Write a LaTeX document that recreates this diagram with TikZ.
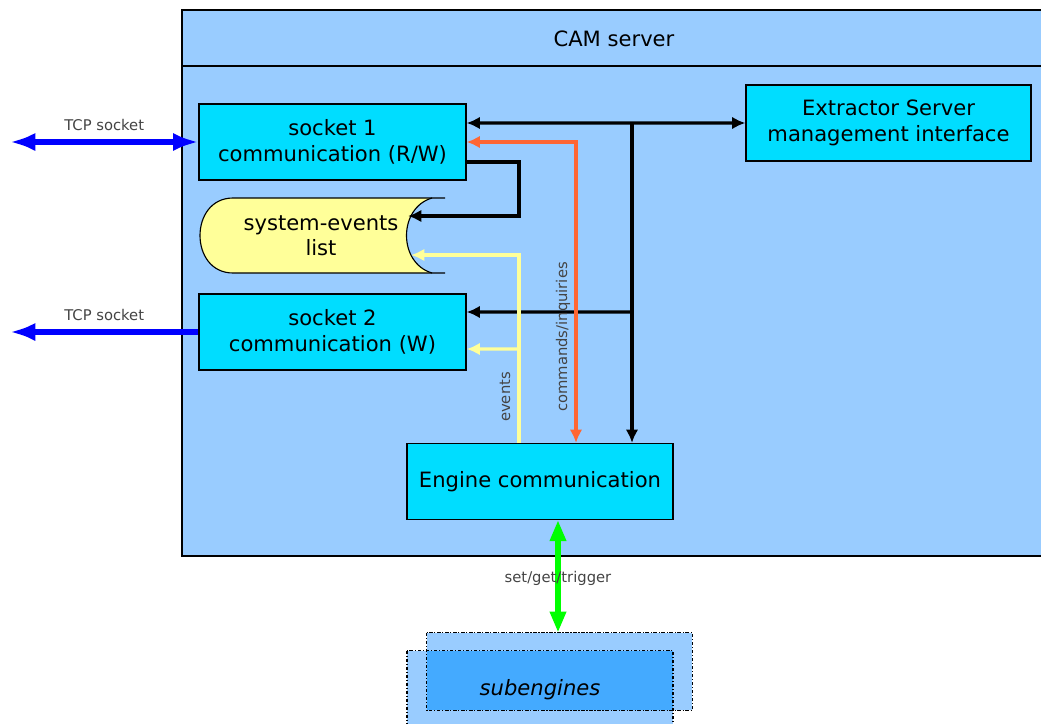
\documentclass[tikz,border=0pt]{standalone}
\usepackage{fontspec}
\setmainfont{DejaVu Sans}
\usetikzlibrary{arrows.meta,positioning}
\definecolor{srvblue}{HTML}{99CCFF}
\definecolor{boxcyan}{HTML}{00DDFF}
\definecolor{listyellow}{HTML}{FFFF99}
\definecolor{cmdorange}{HTML}{FF6633}
\definecolor{tcpblue}{HTML}{0000FF}
\definecolor{trigreen}{HTML}{00FF00}
\definecolor{subdark}{HTML}{44AAFF}
\definecolor{lblgray}{HTML}{444444}

\begin{document}
\begin{tikzpicture}
[x=0.025cm, y=-0.025cm,
baseshape/.style={draw=black, line width=0.8pt, font=\fontsize{15}{18}\selectfont, align=center, inner sep=0pt},
module/.style={baseshape, rectangle, fill=boxcyan, minimum height=1.9cm},
subbox/.style={rectangle, fill=srvblue, minimum width=6.63cm, minimum height=1.93cm, inner sep=0pt},
subline/.style={line width=0.9pt, dash pattern=on 2.5pt off 1.2pt on 0.8pt off 1.2pt},
lbl/.style={font=\fontsize{10.5}{12}\selectfont, text=lblgray, inner sep=1pt},
tip/.style={-{Latex[length=9.5pt,width=9pt]}},
dtip/.style={{Latex[length=9.5pt,width=9pt]}-{Latex[length=9.5pt,width=9pt]}},
blk/.style={line width=2.3pt, black},
tcp/.style={line width=4.5pt, tcpblue},
org/.style={line width=2.3pt, cmdorange},
ylw/.style={line width=2.3pt, listyellow},
grn/.style={line width=4.5pt, trigreen},
]
    \useasboundingbox (0,0) rectangle (1041,724);
    % server frame
    \draw[line width=0.9pt, fill=srvblue] (182,10) rectangle (1050,556);
    \draw[line width=0.9pt] (182,66) -- (1050,66);
    \node (title) [font=\fontsize{15}{18}\selectfont] at (614,39) {CAM server};

    \node (sock1) [module, minimum width=6.675cm] at (332.5,142) {socket 1\\communication (R/W)};
    \node (sock2) [module, minimum width=6.675cm] at (332.5,332) {socket 2\\communication (W)};
    \node (extr) [module, minimum width=7.125cm] at (888.5,123) {Extractor Server\\management interface};
    \node (engine) [module, minimum width=6.65cm] at (540,481.5) {Engine communication};

    % system-events list
    \fill[listyellow] (233,198) -- (432,198) .. controls (398,208) and (398,263) .. (432,273)
        -- (233,273) .. controls (189,273) and (189,198) .. (233,198) -- cycle;
    \draw[line width=0.8pt] (445,198) -- (233,198) .. controls (189,198) and (189,273) .. (233,273) -- (445,273);
    \draw[line width=0.8pt] (432,198) .. controls (398,208) and (398,263) .. (432,273);
    \node (evlist) [font=\fontsize{15}{18}\selectfont, align=center] at (321,236) {system-events\\list};
    \coordinate (evin1) at (408,216);
    \coordinate (evin2) at (411,255);

    % subengines
    \node (subback) [subbox] at (559.5,671.5) {};
    \node (subfront) [subbox] at (540,689.5) {};
    \fill[subdark] (subback.west |- subfront.north) rectangle (subfront.east |- subback.south);
    \draw[subline] (subback.north west) rectangle (subback.south east);
    \draw[subline] (subfront.north west) rectangle (subfront.south east);
    \node (subtext) [font=\fontsize{15}{18}\selectfont\itshape] at (540,690) {subengines};

    % tcp sockets
    \coordinate (tcp1) at (10,142);
    \coordinate (tcp2) at (10,332);
    \draw[tcp, {Latex[length=18pt,width=13pt]}-{Latex[length=18pt,width=13pt]}] (tcp1) -- node[lbl, above=5pt] (tcp1lbl) {TCP socket} (sock1.west);
    \draw[tcp, -{Latex[length=18pt,width=13pt]}] (sock2.west) -- node[lbl, above=5pt] (tcp2lbl) {TCP socket} (tcp2);

    % black links
    \coordinate (hub) at (632,123);
    \coordinate (hubmid) at (632,312);
    \coordinate (loop) at (519,216);
    \draw[blk, dtip] ([yshift=0.475cm]sock1.east) -- (extr.west);
    \draw[blk, tip] (hub) -- (hub |- engine.north);
    \draw[blk, tip] (hubmid) -- ([yshift=0.5cm]sock2.east);
    \draw[blk, tip] ([yshift=-0.5cm]sock1.east) -| (loop) -- (evin1);

    % commands
    \coordinate (cmdx) at (576,142);
    \draw[org, dtip] (sock1.east) -- (cmdx) -- (cmdx |- engine.north);
    \node (cmdlbl) [lbl, rotate=90] at (563,337) {commands/inquiries};

    % events
    \coordinate (evx) at (519,443);
    \coordinate (evbranch) at (519,349);
    \draw[ylw, tip] (evx) |- (evin2);
    \draw[ylw, tip] (evbranch) -- ([yshift=-0.425cm]sock2.east);
    \node (evlbl) [lbl, rotate=90] at (505,397) {events};

    % set/get/trigger
    \draw[grn, {Triangle[length=15pt,width=11pt]}-{Triangle[length=15pt,width=11pt]}] ([xshift=0.45cm]engine.south) -- ([xshift=0.45cm]engine.south |- subback.north);
    \node (trglbl) [lbl] at (558,578) {set/get/trigger};
\end{tikzpicture}
\end{document}
